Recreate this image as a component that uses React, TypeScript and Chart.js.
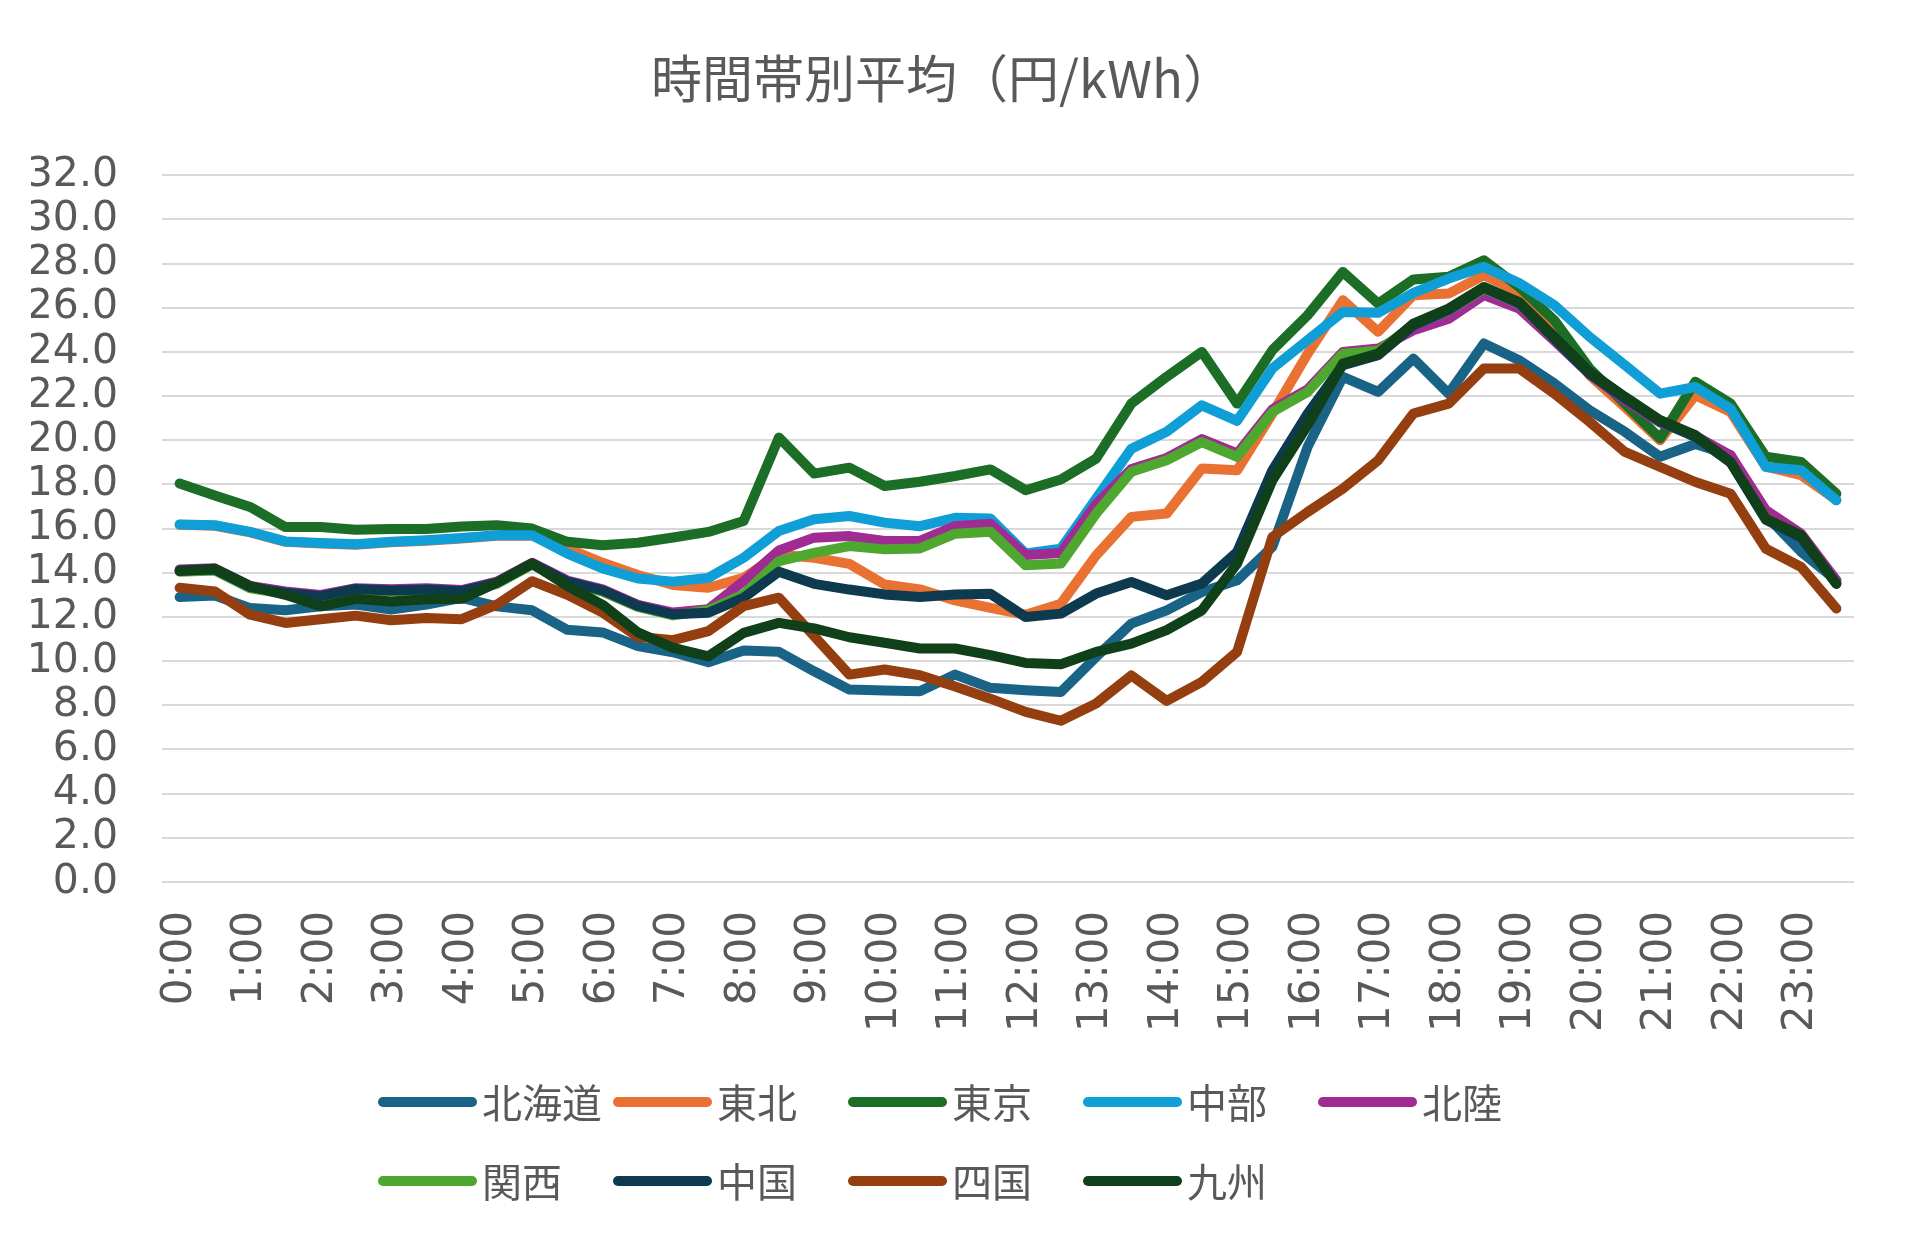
import React, { useEffect, useRef } from "react";
import { Chart, registerables } from "chart.js";

Chart.register(...registerables);

const TITLE = "時間帯別平均（円/kWh）";

const timeLabels = [
  "0:00", "0:30", "1:00", "1:30", "2:00", "2:30", "3:00", "3:30",
  "4:00", "4:30", "5:00", "5:30", "6:00", "6:30", "7:00", "7:30",
  "8:00", "8:30", "9:00", "9:30", "10:00", "10:30", "11:00", "11:30",
  "12:00", "12:30", "13:00", "13:30", "14:00", "14:30", "15:00", "15:30",
  "16:00", "16:30", "17:00", "17:30", "18:00", "18:30", "19:00", "19:30",
  "20:00", "20:30", "21:00", "21:30", "22:00", "22:30", "23:00", "23:30",
];

const yTicks = [0, 2, 4, 6, 8, 10, 12, 14, 16, 18, 20, 22, 24, 26, 28, 30, 32];

const hokkaido = [
  12.9, 12.97, 12.4, 12.3, 12.48, 12.56, 12.33, 12.56, 12.86, 12.48, 12.3, 11.42,
  11.3, 10.68, 10.4, 9.95, 10.48, 10.42, 9.54, 8.71, 8.67, 8.64, 9.39, 8.79,
  8.68, 8.6, 10.19, 11.7, 12.3, 13.13, 13.66, 15.17, 19.7, 22.87, 22.19, 23.7,
  22.11, 24.38, 23.62, 22.57, 21.36, 20.38, 19.25, 19.83, 19.32, 16.6, 14.95, 13.66,
];
const tohoku = [
  16.17, 16.13, 15.83, 15.4, 15.33, 15.27, 15.38, 15.45, 15.55, 15.68, 15.68, 15.1,
  14.45, 13.9, 13.45, 13.32, 13.77, 14.83, 14.68, 14.4, 13.47, 13.25, 12.75, 12.41,
  12.1, 12.6, 14.79, 16.53, 16.68, 18.72, 18.64, 21.21, 23.92, 26.34, 24.91, 26.57,
  26.64, 27.47, 26.72, 25.3, 22.94, 21.5, 20.0, 22.04, 21.28, 18.8, 18.42, 17.3,
];
const tokyo = [
  18.04, 17.5, 16.98, 16.07, 16.07, 15.95, 15.98, 15.98, 16.1, 16.15, 16.0, 15.4,
  15.25, 15.36, 15.6, 15.85, 16.34, 20.12, 18.49, 18.76, 17.93, 18.12, 18.38, 18.68,
  17.74, 18.22, 19.17, 21.66, 22.87, 24.0, 21.66, 24.08, 25.66, 27.62, 26.19, 27.28,
  27.4, 28.15, 26.94, 25.43, 23.25, 21.66, 20.08, 22.65, 21.66, 19.25, 19.02, 17.58,
];
const chubu = [
  16.19, 16.15, 15.85, 15.42, 15.35, 15.29, 15.4, 15.47, 15.57, 15.7, 15.7, 14.87,
  14.2, 13.74, 13.6, 13.77, 14.68, 15.89, 16.42, 16.57, 16.27, 16.11, 16.49, 16.46,
  14.87, 15.09, 17.36, 19.62, 20.38, 21.58, 20.88, 23.25, 24.53, 25.81, 25.77, 26.67,
  27.32, 27.85, 27.12, 26.11, 24.68, 23.4, 22.11, 22.41, 21.43, 18.79, 18.64, 17.28,
];
const hokuriku = [
  14.15, 14.2, 13.4, 13.15, 13.0, 13.3, 13.25, 13.3, 13.22, 13.6, 14.45, 13.65,
  13.25, 12.55, 12.2, 12.35, 13.62, 15.01, 15.59, 15.66, 15.44, 15.44, 16.11, 16.22,
  14.8, 14.9, 17.1, 18.7, 19.2, 20.05, 19.4, 21.4, 22.3, 24.0, 24.15, 24.98,
  25.5, 26.57, 25.96, 24.5, 23.0, 21.8, 20.8, 20.2, 19.32, 16.83, 15.77, 13.66,
];
const kansai = [
  14.05, 14.1, 13.3, 13.05, 12.9, 13.22, 13.15, 13.2, 13.12, 13.5, 14.37, 13.55,
  13.15, 12.45, 12.07, 12.3, 13.02, 14.53, 14.9, 15.21, 15.06, 15.1, 15.77, 15.86,
  14.34, 14.42, 16.68, 18.57, 19.09, 19.92, 19.25, 21.28, 22.19, 23.92, 24.05, 25.2,
  25.88, 26.86, 26.18, 24.6, 23.02, 21.9, 20.85, 20.15, 19.0, 16.45, 15.65, 13.5,
];
const chugoku = [
  14.1, 14.15, 13.35, 13.1, 12.94, 13.27, 13.2, 13.24, 13.17, 13.55, 14.42, 13.6,
  13.2, 12.5, 12.12, 12.19, 12.87, 14.05, 13.5, 13.24, 13.02, 12.9, 13.02, 13.05,
  12.0, 12.15, 13.06, 13.58, 12.98, 13.51, 14.94, 18.64, 21.2, 23.4, 23.85, 25.2,
  25.9, 26.9, 26.2, 24.6, 23.0, 21.9, 20.85, 20.15, 19.0, 16.4, 15.6, 13.5,
];
const shikoku = [
  13.32, 13.15, 12.1, 11.73, 11.9, 12.06, 11.85, 11.95, 11.9, 12.56, 13.62, 13.0,
  12.2, 11.1, 10.95, 11.36, 12.49, 12.87, 11.13, 9.39, 9.62, 9.36, 8.85, 8.3,
  7.7, 7.3, 8.08, 9.35, 8.2, 9.06, 10.42, 15.62, 16.75, 17.81, 19.09, 21.21,
  21.66, 23.25, 23.25, 22.11, 20.83, 19.47, 18.79, 18.11, 17.58, 15.09, 14.26, 12.38,
];
const kyushu = [
  14.08, 14.18, 13.4, 13.0, 12.48, 12.82, 12.7, 12.8, 12.82, 13.55, 14.42, 13.4,
  12.55, 11.3, 10.6, 10.22, 11.28, 11.73, 11.48, 11.08, 10.83, 10.57, 10.57, 10.27,
  9.92, 9.86, 10.42, 10.79, 11.4, 12.3, 14.42, 18.19, 20.68, 23.47, 23.92, 25.28,
  25.96, 26.94, 26.26, 24.68, 23.1, 21.97, 20.91, 20.23, 19.02, 16.45, 15.7, 13.51,
];

const seriesNames = ["北海道", "東北", "東京", "中部", "北陸", "関西", "中国", "四国", "九州"];
const seriesValues = [hokkaido, tohoku, tokyo, chubu, hokuriku, kansai, chugoku, shikoku, kyushu];
const seriesColors = [
  "#186386", "#E97132", "#1C6E26", "#0F9ED5", "#A02B93",
  "#4EA72E", "#0E3A50", "#953F10", "#0F4019",
];

const TEXT_COLOR = "#595959";
const CJK_FONT = '"Noto Sans CJK JP", "Noto Sans", sans-serif';
const NUM_FONT = '"DejaVu Sans", Verdana, sans-serif';

const legendPlugin = {
  id: "gridLegend",
  afterDraw(chart: any) {
    const ctx = chart.ctx;
    const x0 = 378;
    const colW = 235;
    const rowY = [1102, 1181];
    ctx.save();
    chart.data.datasets.forEach((ds: any, i: number) => {
      const col = i % 5;
      const row = Math.floor(i / 5);
      const x = x0 + col * colW;
      const y = rowY[row];
      ctx.beginPath();
      ctx.strokeStyle = ds.borderColor;
      ctx.lineWidth = 10;
      ctx.lineCap = "round";
      ctx.moveTo(x + 5, y);
      ctx.lineTo(x + 94, y);
      ctx.stroke();
      ctx.fillStyle = TEXT_COLOR;
      ctx.font = `40px ${CJK_FONT}`;
      ctx.textBaseline = "middle";
      ctx.textAlign = "left";
      ctx.fillText(ds.label, x + 104, y + 1);
    });
    ctx.restore();
  },
};

export default function App() {
  const canvasRef = useRef<HTMLCanvasElement | null>(null);

  useEffect(() => {
    if (!canvasRef.current) return;
    const chart = new Chart(canvasRef.current, {
      type: "line",
      data: {
        labels: timeLabels,
        datasets: seriesNames.map((name, i) => ({
          label: name,
          data: seriesValues[i],
          borderColor: seriesColors[i],
          backgroundColor: seriesColors[i],
          borderWidth: 10,
          borderCapStyle: "round" as const,
          borderJoinStyle: "round" as const,
          pointRadius: 0,
          pointHoverRadius: 0,
          tension: 0,
          fill: false,
          order: seriesNames.length - 1 - i,
        })),
      },
      options: {
        responsive: false,
        animation: false,
        devicePixelRatio: 1,
        layout: { padding: { top: 0, left: 31, right: 51, bottom: 209 } },
        plugins: {
          legend: { display: false },
          tooltip: { enabled: false },
          title: {
            display: true,
            text: TITLE,
            color: TEXT_COLOR,
            font: { family: CJK_FONT, size: 51, weight: "normal" },
            padding: { top: 48, bottom: 66 },
          },
        },
        scales: {
          x: {
            type: "category",
            offset: true,
            grid: { display: false, drawTicks: false },
            border: { display: false },
            afterFit: (axis: any) => {
              axis.height = 150;
              axis.paddingLeft = 0;
              axis.paddingRight = 0;
            },
            ticks: {
              autoSkip: false,
              minRotation: 90,
              maxRotation: 90,
              padding: 29,
              color: TEXT_COLOR,
              font: { family: NUM_FONT, size: 42 },
              callback: (_v: any, idx: number) => (idx % 2 === 0 ? timeLabels[idx] : ""),
            },
          },
          y: {
            min: yTicks[0],
            max: yTicks[yTicks.length - 1],
            afterBuildTicks: (axis: any) => {
              axis.ticks = yTicks.map((v) => ({ value: v }));
            },
            afterFit: (axis: any) => {
              axis.width = 131;
            },
            grid: { color: "#D9D9D9", lineWidth: 2, drawTicks: false },
            border: { display: false },
            ticks: {
              autoSkip: false,
              padding: 44,
              color: TEXT_COLOR,
              font: { family: NUM_FONT, size: 41 },
              callback: (v: any) => Number(v).toFixed(1),
            },
          },
        },
      },
      plugins: [legendPlugin],
    });
    return () => chart.destroy();
  }, []);

  return (
    <div style={{ position: "absolute", left: 0, top: 0, width: 1905, height: 1241, background: "#fff" }}>
      <canvas ref={canvasRef} width={1905} height={1241} style={{ width: 1905, height: 1241, display: "block" }} />
    </div>
  );
}
